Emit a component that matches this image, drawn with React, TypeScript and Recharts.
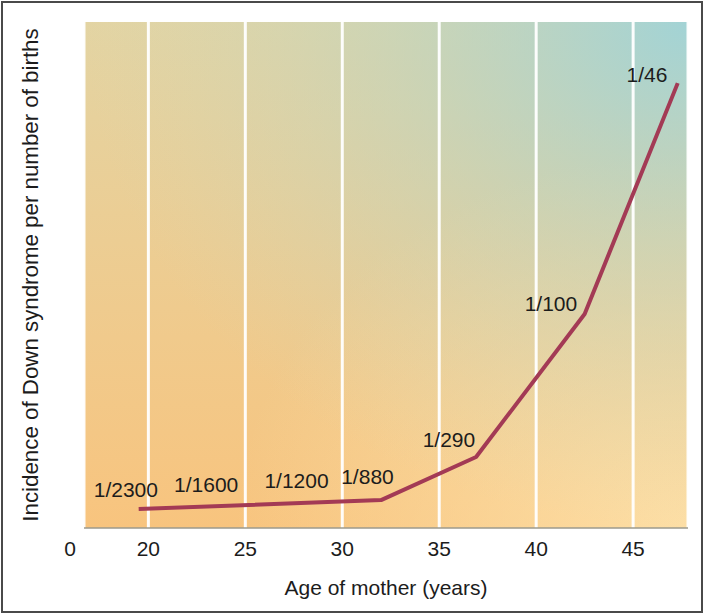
import React from 'react';
import {
  LineChart, Line, XAxis, YAxis, CartesianGrid, ReferenceDot,
} from 'recharts';

// mother's age (years) at each bend of the curve
const ages = [19.5, 32.0, 36.9, 42.5, 47.3];
// incidence (arbitrary linear units, axis 0..250)
const incidence = [9.4, 13.8, 35.1, 105.7, 219.8];

// rate labels written beside the curve
const labelTexts = ['1/2300', '1/1600', '1/1200', '1/880', '1/290', '1/100', '1/46'];
const labelAges = [18.84, 22.98, 27.64, 31.3, 35.5, 40.76, 45.71];
const labelLevels = [18.8, 21.5, 23.2, 25.2, 43.7, 110.7, 223.8];

const xTicks = [20, 25, 30, 35, 40, 45];

const data = ages.map((age, i) => ({ age, y: incidence[i] }));

const font = '"Liberation Sans", Arial, Helvetica, sans-serif';
const ink = '#1c1c1c';

export default function App() {
  return (
    <div style={{ position: 'absolute', left: 0, top: 0, width: 705, height: 615, background: '#fff' }}>
      <LineChart
        width={705}
        height={615}
        data={data}
        margin={{ top: 22, right: 17, left: 84, bottom: 27 }}
        style={{ fontFamily: font }}
      >
        <defs>
          <linearGradient id="baseGrad" x1="0" y1="1" x2="0" y2="0">
            <stop offset="0%" stopColor="#f8c47e" />
            <stop offset="100%" stopColor="#e3d4a3" />
          </linearGradient>
          <radialGradient id="lightGrad" cx="1" cy="1" r="0.75">
            <stop offset="0%" stopColor="#fde0a8" stopOpacity={0.95} />
            <stop offset="100%" stopColor="#fde0a8" stopOpacity={0} />
          </radialGradient>
          <radialGradient id="tealGrad" cx="1" cy="0" r="1">
            <stop offset="0%" stopColor="#9fd3d8" stopOpacity={0.95} />
            <stop offset="45%" stopColor="#b0d5cc" stopOpacity={0.5} />
            <stop offset="100%" stopColor="#c8d8c0" stopOpacity={0} />
          </radialGradient>
          <pattern id="bgPattern" patternUnits="objectBoundingBox" patternContentUnits="objectBoundingBox" width="1" height="1">
            <rect x="0" y="0" width="1" height="1" fill="url(#baseGrad)" />
            <rect x="0" y="0" width="1" height="1" fill="url(#lightGrad)" />
            <rect x="0" y="0" width="1" height="1" fill="url(#tealGrad)" />
          </pattern>
        </defs>
        <CartesianGrid
          horizontal={false}
          stroke="#ffffff"
          strokeWidth={3}
          strokeOpacity={0.95}
          fill="url(#bgPattern)"
          fillOpacity={1}
        />
        <XAxis
          dataKey="age"
          type="number"
          domain={[16.68, 47.83]}
          ticks={xTicks}
          allowDataOverflow
          height={60}
          tickLine={false}
          axisLine={{ stroke: '#9c9a8c', strokeWidth: 1.5 }}
          tick={(p: any) => (
            <text x={p.x} y={p.y} dy={20} textAnchor="middle" fill={ink} fontSize={21} fontFamily={font}>
              {p.payload.value}
            </text>
          )}
          label={{
            content: (p: any) => {
              const vb = p.viewBox || { x: 84, y: 528, width: 604 };
              return (
                <g>
                  <text x={vb.x - 14} y={vb.y + 28} textAnchor="middle" fill={ink} fontSize={21} fontFamily={font}>0</text>
                  <text x={vb.x + vb.width / 2} y={vb.y + 67} textAnchor="middle" fill={ink} fontSize={21} fontFamily={font}>
                    Age of mother (years)
                  </text>
                </g>
              );
            },
          }}
        />
        <YAxis
          type="number"
          domain={[0, 250]}
          width={0}
          tick={false}
          tickLine={false}
          axisLine={{ stroke: '#9c9a8c', strokeWidth: 1.5 }}
        />
        <Line
          type="linear"
          dataKey="y"
          stroke="#a33a55"
          strokeWidth={4}
          strokeLinejoin="round"
          dot={false}
          activeDot={false}
          isAnimationActive={false}
        />
        {labelTexts.map((t, i) => (
          <ReferenceDot
            key={t}
            x={labelAges[i]}
            y={labelLevels[i]}
            r={0}
            fill="none"
            stroke="none"
            ifOverflow="visible"
            label={{ value: t, position: 'center', fill: ink, fontSize: 21, fontFamily: font }}
          />
        ))}
      </LineChart>
      {/* y axis title, drawn over the chart */}
      <svg width={84} height={615} style={{ position: 'absolute', left: 0, top: 0, pointerEvents: 'none' }}>
        <text
          x={30}
          y={275}
          transform="rotate(-90 30 275)"
          textAnchor="middle"
          dominantBaseline="central"
          fill={ink}
          fontSize={22.3}
          fontFamily={font}
        >
          Incidence of Down syndrome per number of births
        </text>
      </svg>
      <div
        style={{
          position: 'absolute', left: 1, top: 1, width: 702, height: 612,
          border: '2px solid #4a4a4a', boxSizing: 'border-box', pointerEvents: 'none',
        }}
      />
    </div>
  );
}
